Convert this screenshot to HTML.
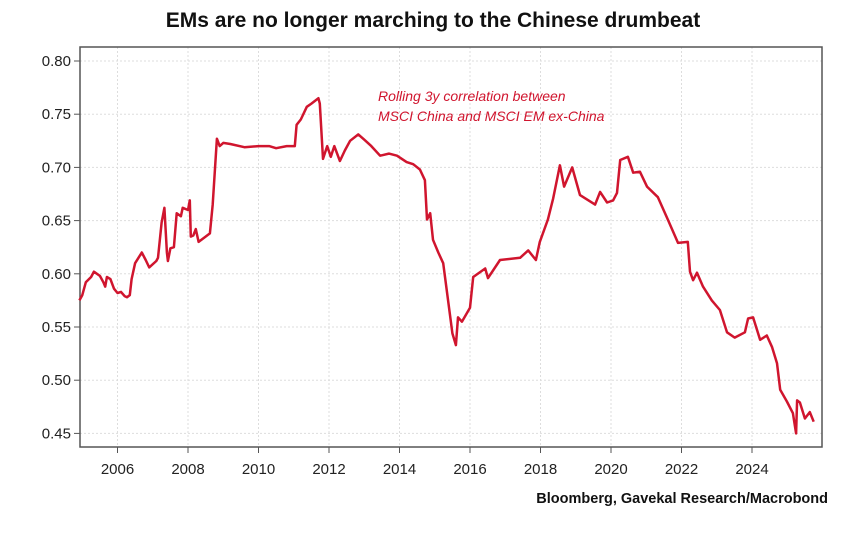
<!DOCTYPE html><html><head><style>body{margin:0;background:#fff}svg{display:block}</style></head><body>
<svg id="s" width="866" height="555" xmlns="http://www.w3.org/2000/svg" font-family="Liberation Sans, sans-serif">
<text x="433" y="27" text-anchor="middle" font-size="21" font-weight="bold" fill="#111">EMs are no longer marching to the Chinese drumbeat</text>
<g id="grid" stroke="#ddd" stroke-dasharray="2,2" stroke-width="1"></g>
<rect x="80" y="47" width="742" height="400" fill="none" stroke="#555" stroke-width="1.5"/>
<g id="ticks" font-size="15" fill="#222"></g>
<polyline id="line" fill="none" stroke="#d0152e" stroke-width="2.5" stroke-linejoin="round"/>
<text x="378" y="101" font-size="14" font-style="italic" fill="#d0152e">Rolling 3y correlation between</text>
<text x="378" y="121" font-size="14" font-style="italic" fill="#d0152e">MSCI China and MSCI EM ex-China</text>
<text x="828" y="503" text-anchor="end" font-size="14.5" font-weight="bold" fill="#111">Bloomberg, Gavekal Research/Macrobond</text>
</svg>
<script>
var X=t=>117.5+(t-2006)*35.25, Y=v=>61+(0.8-v)*1064;
var g=document.getElementById('grid'),tk=document.getElementById('ticks'),ns='http://www.w3.org/2000/svg';
function el(p,n,a,txt){var e=document.createElementNS(ns,n);for(var k in a)e.setAttribute(k,a[k]);if(txt)e.textContent=txt;p.appendChild(e);}
for(var i=0;i<8;i++){var v=0.8-i*0.05,y=Y(v);el(g,'line',{x1:80,x2:822,y1:y,y2:y});el(tk,'line',{x1:74,x2:80,y1:y,y2:y,stroke:'#555'});el(tk,'text',{x:71,y:y+5,'text-anchor':'end'},v.toFixed(2));}
for(var t=2006;t<=2024;t+=2){var x=X(t);el(g,'line',{x1:x,x2:x,y1:47,y2:447});el(tk,'line',{x1:x,x2:x,y1:447,y2:453,stroke:'#555'});el(tk,'text',{x:x,y:474,'text-anchor':'middle'},t);}
var d=[2004.92,.575,2005.0,.58,2005.1,.592,2005.25,.597,2005.33,.602,2005.5,.598,2005.6,.592,2005.65,.588,2005.7,.597,2005.8,.595,2005.9,.586,2006.0,.582,2006.1,.583,2006.2,.579,2006.27,.578,2006.35,.58,2006.4,.595,2006.5,.61,2006.69,.62,2006.8,.613,2006.9,.606,2007.1,.612,2007.15,.615,2007.25,.648,2007.33,.662,2007.4,.62,2007.43,.612,2007.5,.624,2007.6,.625,2007.68,.657,2007.8,.654,2007.85,.662,2008.0,.66,2008.05,.669,2008.08,.635,2008.15,.636,2008.22,.642,2008.3,.63,2008.5,.635,2008.62,.638,2008.7,.665,2008.82,.727,2008.9,.72,2009.0,.723,2009.2,.722,2009.6,.719,2010.0,.72,2010.3,.72,2010.5,.718,2010.8,.72,2011.03,.72,2011.08,.74,2011.2,.745,2011.37,.757,2011.5,.76,2011.7,.765,2011.74,.76,2011.83,.708,2011.95,.72,2012.05,.71,2012.15,.72,2012.31,.706,2012.45,.716,2012.6,.725,2012.83,.731,2013.0,.726,2013.2,.72,2013.45,.711,2013.7,.713,2013.93,.711,2014.2,.705,2014.39,.703,2014.58,.698,2014.72,.688,2014.78,.651,2014.87,.657,2014.95,.632,2015.1,.62,2015.24,.61,2015.5,.544,2015.6,.533,2015.66,.559,2015.77,.555,2016.0,.568,2016.09,.597,2016.43,.605,2016.51,.596,2016.85,.613,2017.42,.615,2017.65,.622,2017.87,.613,2017.98,.63,2018.21,.651,2018.36,.671,2018.55,.702,2018.67,.682,2018.9,.7,2019.12,.674,2019.55,.665,2019.69,.677,2019.89,.667,2020.06,.669,2020.17,.676,2020.26,.707,2020.48,.71,2020.63,.695,2020.82,.696,2021.02,.682,2021.33,.672,2021.61,.651,2021.9,.629,2022.18,.63,2022.24,.602,2022.33,.594,2022.44,.601,2022.61,.588,2022.86,.575,2023.09,.566,2023.29,.545,2023.51,.54,2023.8,.545,2023.89,.558,2024.03,.559,2024.23,.538,2024.42,.542,2024.57,.531,2024.71,.516,2024.8,.491,2024.99,.48,2025.16,.469,2025.25,.45,2025.28,.481,2025.36,.479,2025.5,.464,2025.64,.47,2025.75,.461];
var p=[];for(var i=0;i<d.length;i+=2)p.push(X(d[i]).toFixed(1)+','+Y(d[i+1]).toFixed(1));
document.getElementById('line').setAttribute('points',p.join(' '));
</script></body></html>
